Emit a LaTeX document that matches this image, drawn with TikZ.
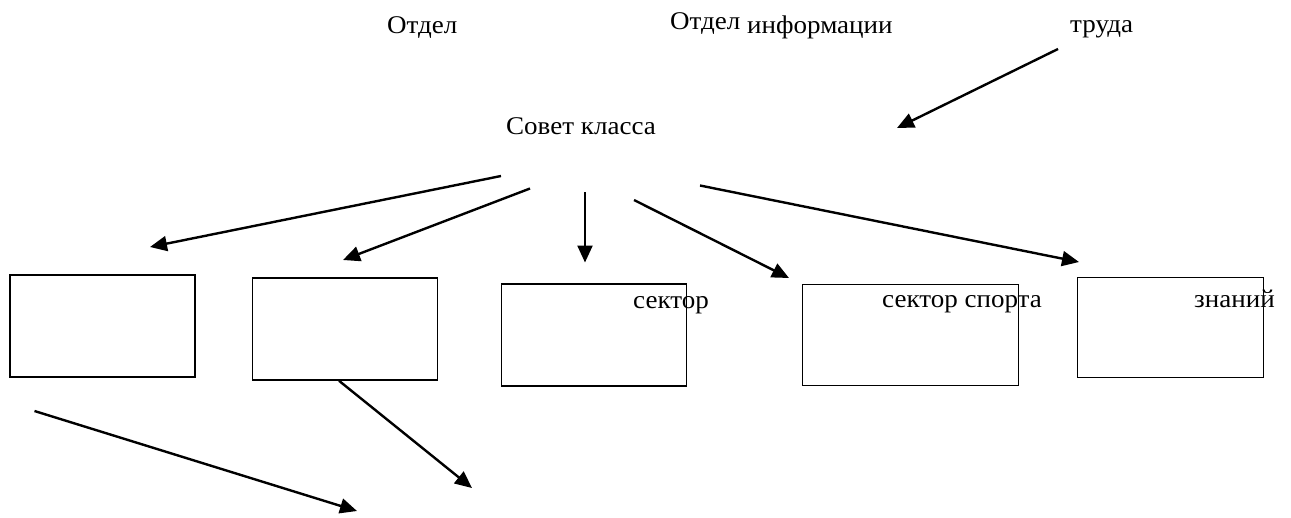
\documentclass[tikz,border=0pt]{standalone}
\usepackage{fontspec}
\setmainfont{Liberation Serif}[FakeStretch=1.06]
\usetikzlibrary{arrows.meta}
\begin{document}
\begin{tikzpicture}[x=1pt,y=-1pt,
  lbl/.style={inner sep=0pt,anchor=base west,font=\fontsize{25.5}{30}\selectfont},
  boxn/.style={draw,line width=1.5pt,inner sep=0pt},
  arr/.style={line width=2.4pt,-{Triangle[length=17pt,width=15pt]}}]
\useasboundingbox (0,0) rectangle (1291,517);
% texts
\node[lbl] (otdel1) at (387,33.3) {Отдел};
\node[lbl] (otdel2) at (670,29.5) {Отдел};
\node[lbl] (inform) at (747,33.3) {информации};
\node[lbl] (truda) at (1070,32.5) {труда};
\node[lbl] (sovet) at (506,134) {Совет класса};
% boxes
\node[boxn,minimum width=185pt,minimum height=102pt] (b1) at (102.5,326) {};
\node[boxn,minimum width=185pt,minimum height=102pt] (b2) at (345,329) {};
\node[boxn,minimum width=185pt,minimum height=102pt] (b3) at (594,335) {};
\node[boxn,minimum width=216pt,minimum height=101pt] (b4) at (910.5,335) {};
\node[boxn,minimum width=186pt,minimum height=100pt] (b5) at (1170.5,327.5) {};
% box texts
\node[lbl] (s3) at (633,308) {сектор};
\node[lbl] (s4) at (882,307.5) {сектор спорта};
\node[lbl] (s5) at (1194,307) {знаний};
% arrow end points
\coordinate (t0) at (1058,49);   \coordinate (h0) at (897,128);
\coordinate (t1) at (501,176);   \coordinate (h1) at (150,247);
\coordinate (t2) at (530,188.5); \coordinate (h2) at (343,260);
\coordinate (t3) at (585,192);   \coordinate (h3) at (585,262.5);
\coordinate (t4) at (634,200);   \coordinate (h4) at (789,278);
\coordinate (t5) at (700,185.5); \coordinate (h5) at (1079,262);
\coordinate (t6) at (34.5,411);  \coordinate (h6) at (357,511);
\coordinate (h7) at (472,488);
% arrows
\draw[arr] (t0) -- (h0);
\draw[arr] (t1) -- (h1);
\draw[arr] (t2) -- (h2);
\draw[arr] (t3) -- (h3);
\draw[arr] (t4) -- (h4);
\draw[arr] (t5) -- (h5);
\draw[arr] (t6) -- (h6);
\draw[arr] ([xshift=-6pt]b2.south) -- (h7);
\end{tikzpicture}
\end{document}
